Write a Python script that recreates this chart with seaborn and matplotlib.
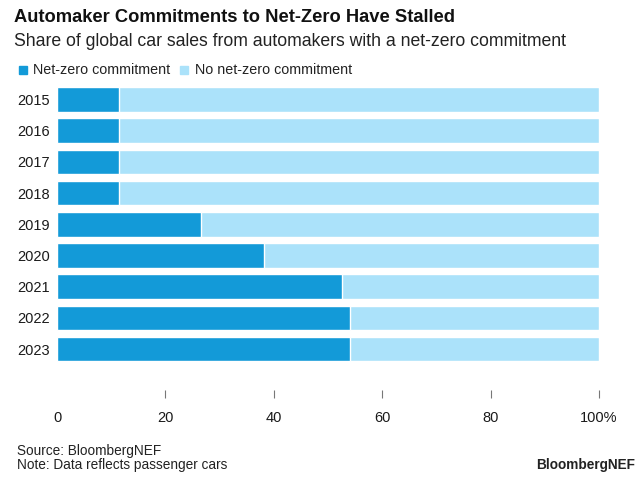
import matplotlib
matplotlib.use("Agg")
import matplotlib.pyplot as plt
import seaborn as sns
import pandas as pd
from matplotlib.patches import Rectangle

years = ["2015", "2016", "2017", "2018", "2019", "2020", "2021", "2022", "2023"]
net_zero = [11.5, 11.5, 11.5, 11.5, 26.6, 38.2, 52.5, 54.0, 54.0]
no_net_zero = [88.5, 88.5, 88.5, 88.5, 73.4, 61.8, 47.5, 46.0, 46.0]
x_ticks = [20, 40, 60, 80, 100]
x_labels = ["20", "40", "60", "80", "100%"]

DARK = "#139ad8"
LIGHT = "#abe2fa"
TXT = "#1a1a1a"

df = pd.DataFrame({"year": years, "net": net_zero, "no": no_net_zero})
df["total"] = df["net"] + df["no"]

sns.set_theme(style="white")
plt.rcParams["font.family"] = ["Liberation Sans", "DejaVu Sans"]

fig = plt.figure(figsize=(6.4, 4.95), dpi=100)
ax = fig.add_axes([57 / 640, 1 - 398 / 495, 542 / 640, (398 - 83.9) / 495])

sns.barplot(data=df, x="total", y="year", order=years, orient="h",
            color=LIGHT, saturation=1, width=0.785, ax=ax)
sns.barplot(data=df, x="net", y="year", order=years, orient="h",
            color=DARK, saturation=1, width=0.785, ax=ax)

ax.set_xlim(0, 100)
ax.set_ylim(9.57, -0.5)
ax.set_xlabel("")
ax.set_ylabel("")
for s in ax.spines.values():
    s.set_visible(False)

ax.set_xticks(x_ticks)
ax.set_xticklabels(x_labels)
ax.tick_params(axis="x", direction="in", length=5.8, width=0.8, color="#777777",
               pad=9.5, labelsize=10.5, labelcolor=TXT, bottom=True)
ax.tick_params(axis="y", length=0, pad=5, labelsize=10.5, labelcolor=TXT)
# 0 label (no tick mark)
ax.text(0, -0.042, "0", transform=ax.get_xaxis_transform(), ha="center", va="top",
        fontsize=10.5, color=TXT)

# Title and subtitle
fig.text(14 / 640, 1 - 18 / 495, "Automaker Commitments to Net-Zero Have Stalled",
         fontsize=13.2, fontweight="bold", color="#111111", va="center", ha="left")
fig.text(14 / 640, 1 - 42 / 495,
         "Share of global car sales from automakers with a net-zero commitment",
         fontsize=12.7, color="#222222", va="center", ha="left")

# Legend
ly = 1 - 70 / 495
fig.patches.append(Rectangle((19 / 640, 1 - 73.5 / 495), 8 / 640, 8 / 495,
                             transform=fig.transFigure, color=DARK, figure=fig))
fig.text(33 / 640, ly, "Net-zero commitment", fontsize=10.3, color="#222222",
         va="center", ha="left")
fig.patches.append(Rectangle((180 / 640, 1 - 73.5 / 495), 8 / 640, 8 / 495,
                             transform=fig.transFigure, color=LIGHT, figure=fig))
fig.text(195 / 640, ly, "No net-zero commitment", fontsize=10.3, color="#222222",
         va="center", ha="left")

# Footer
fig.text(17 / 640, 1 - 451 / 495, "Source: BloombergNEF", fontsize=9.8,
         color="#222222", va="center", ha="left")
fig.text(17 / 640, 1 - 465 / 495, "Note: Data reflects passenger cars", fontsize=9.8,
         color="#222222", va="center", ha="left")
fig.text(635 / 640, 1 - 465 / 495, "BloombergNEF", fontsize=9.8, fontweight="bold",
         color="#222222", va="center", ha="right")

fig.savefig("out.png", dpi=100, facecolor="white")
